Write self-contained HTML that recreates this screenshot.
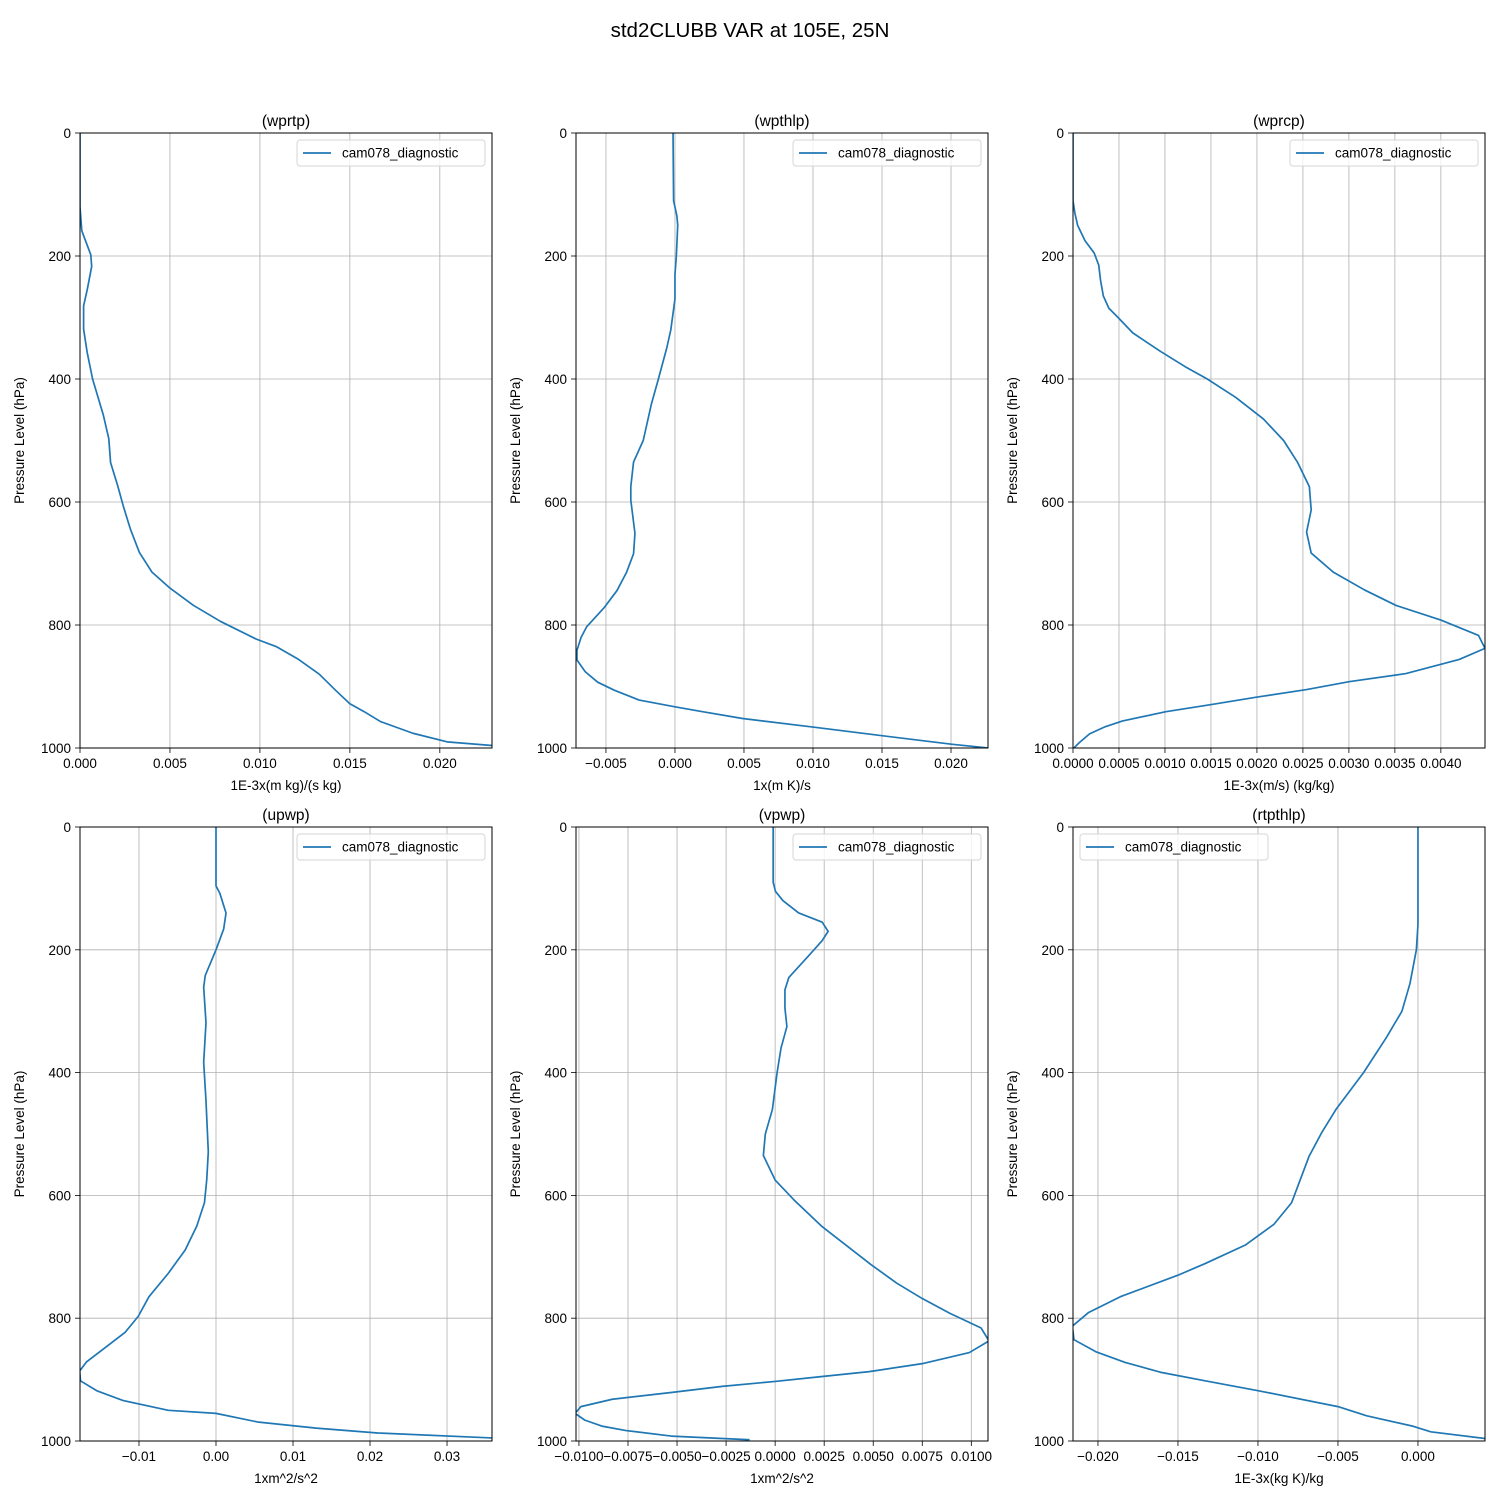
<!DOCTYPE html>
<html><head><meta charset="utf-8">
<style>
html,body{margin:0;padding:0;background:#fff;}
svg{display:block;font-family:"Liberation Sans","DejaVu Sans",sans-serif;}
</style></head>
<body>
<svg id="fig" width="1500" height="1500" viewBox="0 0 1500 1500" xmlns="http://www.w3.org/2000/svg">
<rect x="0" y="0" width="1500" height="1500" fill="#fff"/>
<text x="750" y="37" text-anchor="middle" font-size="20.5">std2CLUBB VAR at 105E, 25N</text>
</svg>
<script>
// ---- data (pressure in hPa, values in axis units) ----
const wprtpP = [0,120,159,198,217,255,281,319,357,400,459,497,536,574,606,644,682,714,740,768,794,823,835,855,880,906,928,941,957,976,990,996];
const wprtpV = [0,0,0.0001,0.0006,0.00065,0.0004,0.0002,0.0002,0.0004,0.0007,0.0013,0.0016,0.0017,0.0021,0.0024,0.0028,0.0033,0.0040,0.0050,0.0063,0.0078,0.0098,0.0109,0.0121,0.0133,0.0142,0.0150,0.0158,0.0167,0.0185,0.0204,0.0229];

const wpthlpP = [0,110,135,150,200,230,270,320,350,400,440,500,535,575,597,651,684,714,744,771,803,820,841,857,876,893,906,922,933,941,952,966,980,994,1000];
const wpthlpV = [-0.00014,-0.0001,0.00014,0.0002,0.0001,0,0,-0.0003,-0.0006,-0.0012,-0.0017,-0.0023,-0.0030,-0.0032,-0.0032,-0.0029,-0.0030,-0.0035,-0.0042,-0.0051,-0.0064,-0.0068,-0.0071,-0.0071,-0.0065,-0.0056,-0.0044,-0.0026,0,0.0020,0.0049,0.0100,0.0150,0.0201,0.0227];

const wprcpP = [0,110,130,150,175,195,215,240,265,285,300,325,355,380,400,430,465,500,535,575,613,649,683,714,743,768,792,817,838,856,879,892,905,917,929,941,956,966,977,991,1000];
const wprcpV = [0,0,0.00002,0.00005,0.00013,0.00023,0.00028,0.0003,0.00033,0.00039,0.00049,0.00065,0.00095,0.00122,0.00146,0.00177,0.00207,0.00229,0.00244,0.00257,0.00259,0.00254,0.00259,0.00283,0.00317,0.00351,0.00400,0.00441,0.00448,0.00420,0.00362,0.00301,0.00254,0.00201,0.00152,0.00101,0.00054,0.00034,0.00018,0.00007,0.00001];

const upwpP = [0,96,108,140,166,200,242,261,319,383,446,529,574,612,650,689,727,765,797,823,848,871,886,902,918,934,950,955,969,979,987,995];
const upwpV = [0,0,0.0005,0.0013,0.001,0,-0.0014,-0.0016,-0.0013,-0.0016,-0.0013,-0.0010,-0.0012,-0.0015,-0.0025,-0.0040,-0.0062,-0.0087,-0.0101,-0.0118,-0.0144,-0.0168,-0.0177,-0.0176,-0.0155,-0.0121,-0.0062,0,0.0054,0.0130,0.0210,0.0358];

const vpwpP = [0,90,105,120,140,155,170,185,210,245,265,295,325,360,400,460,500,535,575,607,651,713,743,768,792,816,837,856,874,887,895,903,911,921,932,944,955,966,976,983,992,998];
const vpwpV = [-0.0001,-0.0001,0.00002,0.0004,0.0012,0.0024,0.0027,0.0024,0.0017,0.0007,0.0005,0.0005,0.0006,0.0003,0.0001,-0.00014,-0.0005,-0.0006,0,0.00095,0.0024,0.0049,0.0062,0.0075,0.0089,0.0105,0.0109,0.0099,0.0075,0.0048,0.0024,0,-0.0027,-0.0053,-0.0083,-0.0099,-0.0102,-0.0097,-0.0088,-0.0076,-0.0053,-0.0013];

const rtpthlpP = [0,159,200,255,300,344,400,459,497,536,612,647,681,711,730,765,791,813,835,855,872,888,902,918,944,959,976,985,996];
const rtpthlpV = [0,0,-0.0001,-0.0005,-0.0010,-0.0020,-0.0034,-0.0051,-0.0060,-0.0068,-0.0079,-0.0090,-0.0108,-0.0133,-0.0150,-0.0186,-0.0206,-0.0216,-0.0215,-0.0201,-0.0183,-0.0161,-0.0133,-0.0100,-0.0050,-0.0032,-0.0003,0.0008,0.0042];

const yTicks = [0,200,400,600,800,1000];
const ticks1 = [0,0.005,0.010,0.015,0.020];
const ticks2 = [-0.005,0,0.005,0.010,0.015,0.020];
const ticks3 = [0,0.0005,0.0010,0.0015,0.0020,0.0025,0.0030,0.0035,0.0040];
const ticks4 = [-0.01,0,0.01,0.02,0.03];
const ticks5 = [-0.0100,-0.0075,-0.0050,-0.0025,0,0.0025,0.0050,0.0075,0.0100];
const ticks6 = [-0.020,-0.015,-0.010,-0.005,0];

const NS = "http://www.w3.org/2000/svg";
const svg = document.getElementById('fig');
const FS = 13.5;
function mk(tag, attrs, parent){const e=document.createElementNS(NS,tag);for(const k in attrs)e.setAttribute(k,attrs[k]);(parent||svg).appendChild(e);return e;}
function fmt(v,d){let s=Math.abs(v).toFixed(d);return (v<0&&Math.abs(v)>1e-12?"\u2212":"")+s;}

function panel(cfg){
  const {x0,y0,w,h,xmin,xmax,ticks,dec,P,V,title,xlabel,legendLeft,key}=cfg;
  const g=mk('g',{});
  
  
  const sx=v=>x0+(v-xmin)/(xmax-xmin)*w;
  const sy=p=>y0+p/1000*h;
  ticks.forEach(t=>{const x=sx(t);
    const l=mk('line',{x1:x,x2:x,y1:y0,y2:y0+h,stroke:'#b0b0b0','stroke-width':0.8},g);
    
    
    const tk=mk('line',{x1:x,x2:x,y1:y0+h,y2:y0+h+5,stroke:'#000','stroke-width':0.8},g);
    
    
    const tx=mk('text',{x:x,y:y0+h+20,'text-anchor':'middle','font-size':FS},g);
    tx.textContent=fmt(t,dec);
    
    
  });
  yTicks.forEach(t=>{const y=sy(t);
    const l=mk('line',{x1:x0,x2:x0+w,y1:y,y2:y,stroke:'#b0b0b0','stroke-width':0.8},g);
    
    
    const tk=mk('line',{x1:x0-5,x2:x0,y1:y,y2:y,stroke:'#000','stroke-width':0.8},g);
    
    
    const tx=mk('text',{x:x0-9,y:y+5,'text-anchor':'end','font-size':FS},g);
    tx.textContent=String(t);
    
    
  });
  const cp=mk('clipPath',{id:'clip-'+key},g);
  mk('rect',{x:x0,y:y0,width:w,height:h},cp);
  const d=P.map((p,i)=>(i?'L':'M')+sx(V[i]).toFixed(2)+','+sy(p).toFixed(2)).join(' ');
  const path=mk('path',{d:d,fill:'none',stroke:'#1f77b4','stroke-width':1.7,'clip-path':'url(#clip-'+key+')','stroke-linejoin':'round'},g);
  
  
  const fr=mk('rect',{x:x0,y:y0,width:w,height:h,fill:'none',stroke:'#000','stroke-width':1},g);
  
  
  const tt=mk('text',{x:x0+w/2,y:y0-7,'text-anchor':'middle','font-size':15.5},g);
  tt.textContent=title;
  
  
  const xl=mk('text',{x:x0+w/2,y:y0+h+42,'text-anchor':'middle','font-size':FS},g);
  xl.textContent=xlabel;
  
  
  const yl=mk('text',{x:0,y:0,'text-anchor':'middle','font-size':FS,transform:`translate(${x0-56},${y0+h/2}) rotate(-90)`},g);
  yl.textContent='Pressure Level (hPa)';
  
  
  const lw=188, lx=legendLeft? x0+7 : x0+w-7-lw, ly=y0+7;
  const lg=mk('g',{},g);
  
  
  mk('rect',{x:lx,y:ly,width:lw,height:26,rx:3,fill:'#fff','fill-opacity':0.8,stroke:'#d6d6d6'},lg);
  const ls=mk('line',{x1:lx+6,x2:lx+34,y1:ly+13,y2:ly+13,stroke:'#1f77b4','stroke-width':1.7},lg);
  
  
  const lt=mk('text',{x:lx+45,y:ly+17.5,'font-size':FS},lg);
  lt.textContent='cam078_diagnostic';
  
  
}

const W=412;
panel({key:'wprtp',x0:80,y0:133,w:W,h:615,xmin:0,xmax:0.0229,ticks:ticks1,dec:3,P:wprtpP,V:wprtpV,title:'(wprtp)',xlabel:'1E-3x(m kg)/(s kg)'});
panel({key:'wpthlp',x0:576,y0:133,w:W,h:615,xmin:-0.00717,xmax:0.02268,ticks:ticks2,dec:3,P:wpthlpP,V:wpthlpV,title:'(wpthlp)',xlabel:'1x(m K)/s'});
panel({key:'wprcp',x0:1073,y0:133,w:W,h:615,xmin:0,xmax:0.00448,ticks:ticks3,dec:4,P:wprcpP,V:wprcpV,title:'(wprcp)',xlabel:'1E-3x(m/s) (kg/kg)'});
panel({key:'upwp',x0:80,y0:827,w:W,h:614,xmin:-0.01766,xmax:0.03584,ticks:ticks4,dec:2,P:upwpP,V:upwpV,title:'(upwp)',xlabel:'1xm^2/s^2'});
panel({key:'vpwp',x0:576,y0:827,w:W,h:614,xmin:-0.01015,xmax:0.01085,ticks:ticks5,dec:4,P:vpwpP,V:vpwpV,title:'(vpwp)',xlabel:'1xm^2/s^2'});
panel({key:'rtpthlp',x0:1073,y0:827,w:W,h:614,xmin:-0.02156,xmax:0.00419,ticks:ticks6,dec:3,P:rtpthlpP,V:rtpthlpV,title:'(rtpthlp)',xlabel:'1E-3x(kg K)/kg',legendLeft:true});
</script>
</body></html>
